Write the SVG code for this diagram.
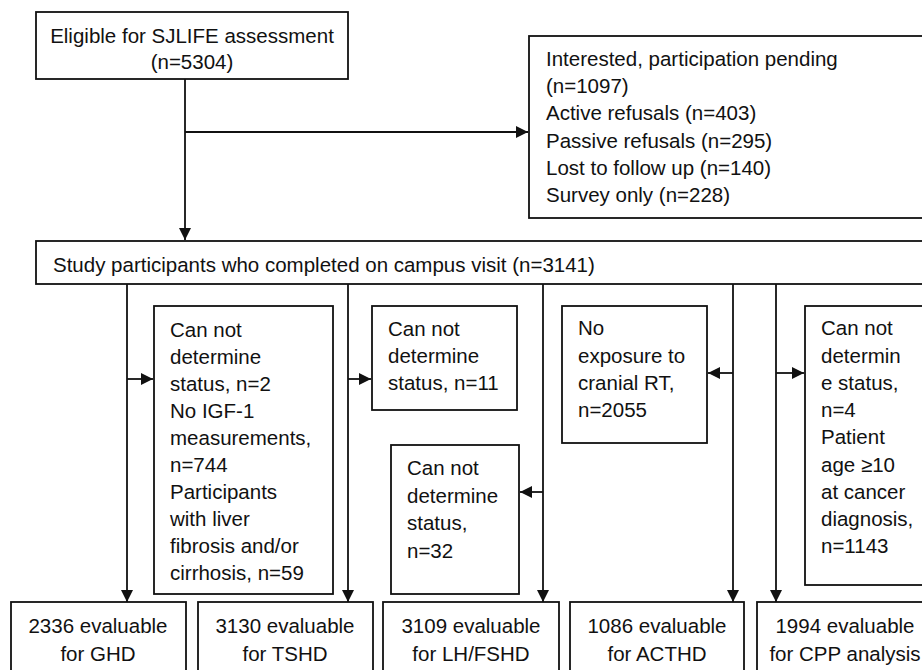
<svg xmlns="http://www.w3.org/2000/svg" width="922" height="670" viewBox="0 0 922 670">
<style>
.box{fill:#fff;stroke:#111;stroke-width:1.8}
.ln{fill:none;stroke:#111;stroke-width:1.8}
text{font-family:"Liberation Sans",Arial,sans-serif;font-size:20.5px;fill:#111}
.c{text-anchor:middle}
</style>
<defs>
<marker id="ah" viewBox="0 0 10 10" refX="10" refY="5" markerWidth="12" markerHeight="12" markerUnits="userSpaceOnUse" orient="auto">
<path d="M0,0 L10,5 L0,10 z" fill="#111"/>
</marker>
</defs>
<rect width="922" height="670" fill="#fff"/>
<g id="connectors">
<path class="ln" d="M185,79 V240" marker-end="url(#ah)"/>
<path class="ln" d="M185,132 H528" marker-end="url(#ah)"/>
<path class="ln" d="M127,284 V602" marker-end="url(#ah)"/>
<path class="ln" d="M127,379 H153" marker-end="url(#ah)"/>
<path class="ln" d="M348,284 V602" marker-end="url(#ah)"/>
<path class="ln" d="M348,379 H371" marker-end="url(#ah)"/>
<path class="ln" d="M543,284 V602" marker-end="url(#ah)"/>
<path class="ln" d="M543,492 H520" marker-end="url(#ah)"/>
<path class="ln" d="M733,284 V602" marker-end="url(#ah)"/>
<path class="ln" d="M733,373 H708" marker-end="url(#ah)"/>
<path class="ln" d="M776,284 V602" marker-end="url(#ah)"/>
<path class="ln" d="M776,373 H804" marker-end="url(#ah)"/>
</g>
<g id="eligible">
<rect class="box" x="36" y="12" width="312" height="67"/>
<text class="c" x="192" y="43">Eligible for SJLIFE assessment</text>
<text class="c" x="192" y="69">(n=5304)</text>
</g>
<g id="excluded">
<rect class="box" x="529" y="36" width="410" height="182"/>
<text x="546" y="66">Interested, participation pending</text>
<text x="546" y="93">(n=1097)</text>
<text x="546" y="120">Active refusals (n=403)</text>
<text x="546" y="148">Passive refusals (n=295)</text>
<text x="546" y="175">Lost to follow up (n=140)</text>
<text x="546" y="202">Survey only (n=228)</text>
</g>
<g id="participants">
<rect class="box" x="36" y="241" width="900" height="43"/>
<text x="53" y="272">Study participants who completed on campus visit (n=3141)</text>
</g>
<g id="ghd-excl">
<rect class="box" x="154" y="306" width="179" height="288"/>
<text x="170" y="337">Can not</text>
<text x="170" y="364">determine</text>
<text x="170" y="391">status, n=2</text>
<text x="170" y="418">No IGF-1</text>
<text x="170" y="445">measurements,</text>
<text x="170" y="472">n=744</text>
<text x="170" y="499">Participants</text>
<text x="170" y="526">with liver</text>
<text x="170" y="553">fibrosis and/or</text>
<text x="170" y="580">cirrhosis, n=59</text>
</g>
<g id="tshd-excl">
<rect class="box" x="372" y="306" width="145" height="104"/>
<text x="388" y="336">Can not</text>
<text x="388" y="363">determine</text>
<text x="388" y="390">status, n=11</text>
</g>
<g id="lh-excl">
<rect class="box" x="391" y="445" width="128" height="149"/>
<text x="407" y="475">Can not</text>
<text x="407" y="503">determine</text>
<text x="407" y="530">status,</text>
<text x="407" y="558">n=32</text>
</g>
<g id="acth-excl">
<rect class="box" x="562" y="306" width="145" height="137"/>
<text x="578" y="335">No</text>
<text x="578" y="363">exposure to</text>
<text x="578" y="390">cranial RT,</text>
<text x="578" y="417">n=2055</text>
</g>
<g id="cpp-excl">
<rect class="box" x="805" y="306" width="130" height="279"/>
<text x="821" y="335">Can not</text>
<text x="821" y="363">determin</text>
<text x="821" y="390">e status,</text>
<text x="821" y="417">n=4</text>
<text x="821" y="444">Patient</text>
<text x="821" y="472">age ≥10</text>
<text x="821" y="499">at cancer</text>
<text x="821" y="526">diagnosis,</text>
<text x="821" y="553">n=1143</text>
</g>
<g id="ghd">
<rect class="box" x="11" y="602" width="175" height="80"/>
<text class="c" x="98" y="633">2336 evaluable</text>
<text class="c" x="98" y="661">for GHD</text>
</g>
<g id="tshd">
<rect class="box" x="198" y="602" width="175" height="80"/>
<text class="c" x="285" y="633">3130 evaluable</text>
<text class="c" x="285" y="661">for TSHD</text>
</g>
<g id="lhfshd">
<rect class="box" x="383" y="602" width="176" height="80"/>
<text class="c" x="471" y="633">3109 evaluable</text>
<text class="c" x="471" y="661">for LH/FSHD</text>
</g>
<g id="acthd">
<rect class="box" x="570" y="602" width="174" height="80"/>
<text class="c" x="657" y="633">1086 evaluable</text>
<text class="c" x="657" y="661">for ACTHD</text>
</g>
<g id="cpp">
<rect class="box" x="757" y="602" width="180" height="80"/>
<text class="c" x="845" y="633">1994 evaluable</text>
<text class="c" x="845" y="661">for CPP analysis</text>
</g>
</svg>
